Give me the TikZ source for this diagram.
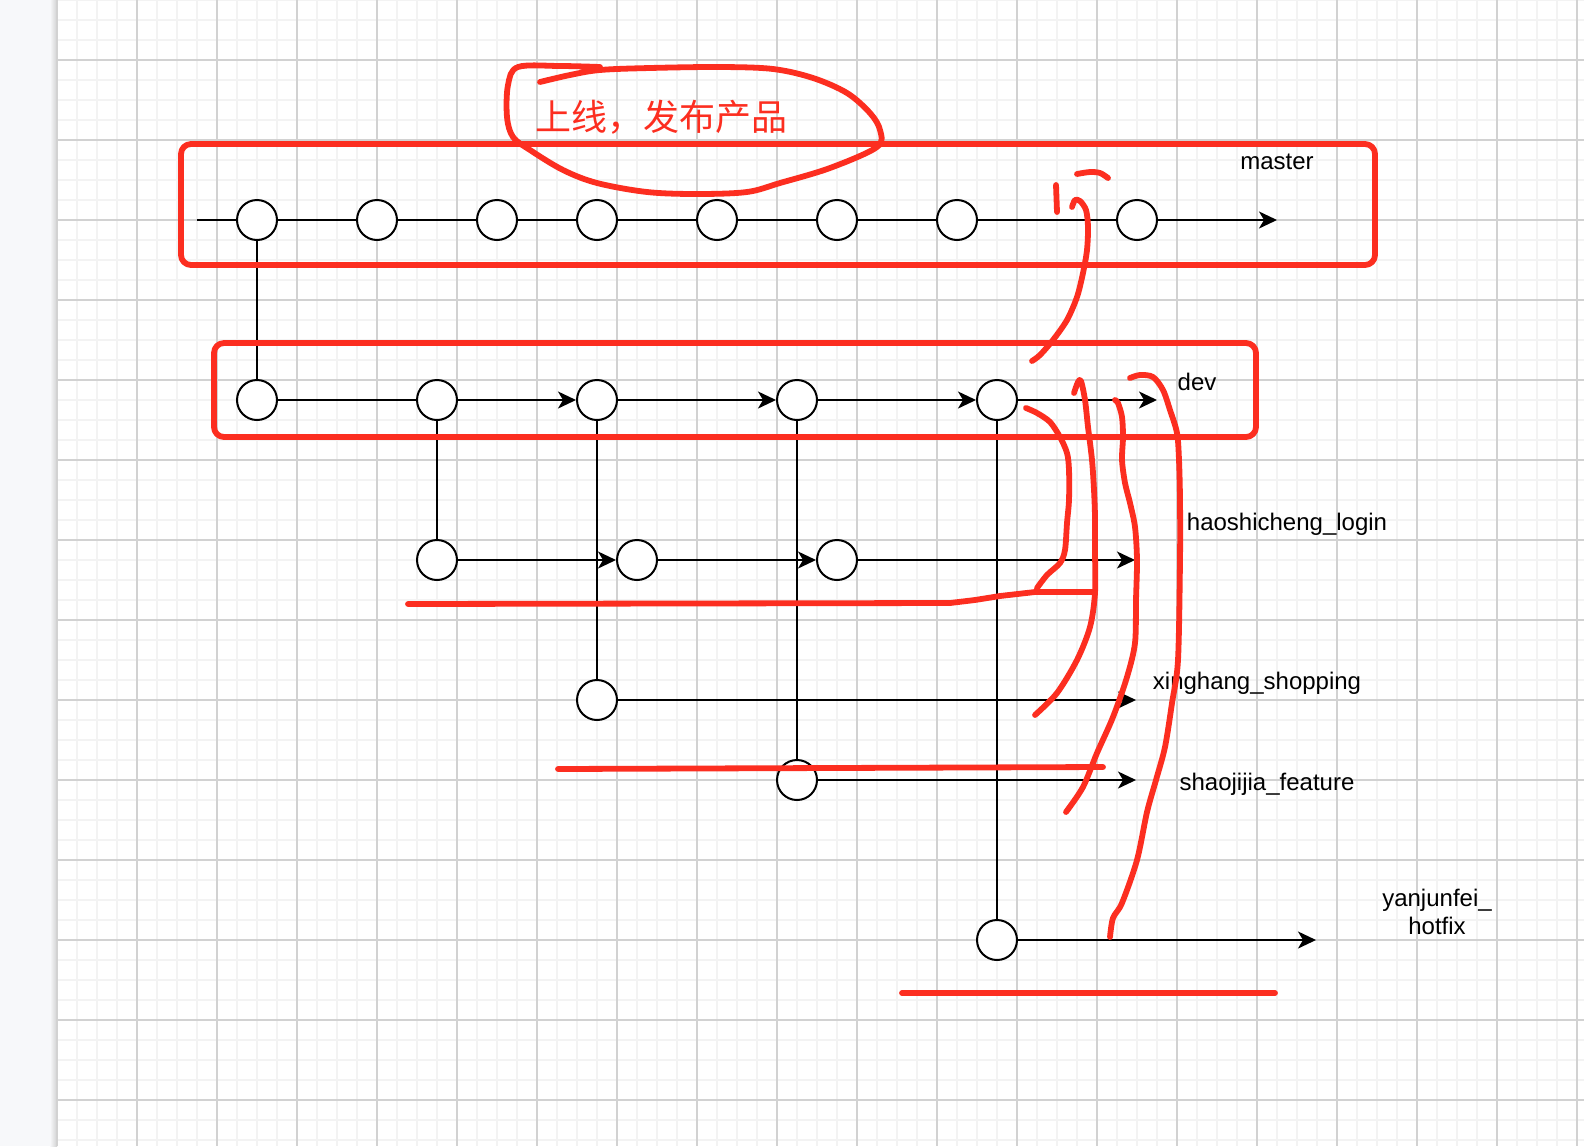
\documentclass[tikz,border=0pt]{standalone}
\usepackage{fontspec}
\setmainfont{Liberation Sans}
\newfontfamily\cjk{Noto Sans CJK SC}
\usetikzlibrary{arrows.meta}
\definecolor{annot}{RGB}{252,46,32}
\definecolor{gridminor}{RGB}{243,243,243}
\definecolor{gridmajor}{RGB}{210,210,210}
\definecolor{panel}{RGB}{247,248,250}
\begin{document}
\begin{tikzpicture}[x=0.5pt,y=-0.5pt,
  commit/.style={circle,draw=black,line width=1pt,fill=white,minimum size=20pt,inner sep=0pt},
  branch/.style={draw=black,line width=1pt},
  arr/.style={-{Stealth[length=9pt,width=8.5pt,inset=2.5pt]}},
  lbl/.style={font=\fontsize{12pt}{14pt}\selectfont,anchor=base,inner sep=0pt},
  redpen/.style={draw=annot,line width=2.9pt,line cap=round,line join=round}]
\useasboundingbox (0,0) rectangle (1584,1146);
% canvas
\fill[white] (0,0) rectangle (1584,1146);
\fill[panel] (0,0) rectangle (57,1146);
\shade[left color=panel,right color=black!18] (50,0) rectangle (57,1146);
\foreach \x in {57,77,...,1584} \draw[gridminor,line width=0.9pt] (\x,0) -- (\x,1146);
\foreach \y in {0,20,...,1146} \draw[gridminor,line width=0.9pt] (57,\y) -- (1584,\y);
\foreach \x in {57,137,...,1584} \draw[gridmajor,line width=0.6pt] (\x,0) -- (\x,1146);
\foreach \y in {60,140,...,1146} \draw[gridmajor,line width=0.6pt] (57,\y) -- (1584,\y);

% commits
\node[commit] (m0) at (257,220) {};
\node[commit] (m1) at (377,220) {};
\node[commit] (m2) at (497,220) {};
\node[commit] (m3) at (597,220) {};
\node[commit] (m4) at (717,220) {};
\node[commit] (m5) at (837,220) {};
\node[commit] (m6) at (957,220) {};
\node[commit] (m7) at (1137,220) {};
\coordinate (mstart) at (197,220);
\coordinate (mend) at (1277,220);

\node[commit] (d0) at (257,400) {};
\node[commit] (d1) at (437,400) {};
\node[commit] (d2) at (597,400) {};
\node[commit] (d3) at (797,400) {};
\node[commit] (d4) at (997,400) {};
\coordinate (dend) at (1157,400);

\node[commit] (h0) at (437,560) {};
\node[commit] (h1) at (637,560) {};
\node[commit] (h2) at (837,560) {};
\coordinate (hend) at (1135,560);

\node[commit] (x0) at (597,700) {};
\coordinate (xend) at (1136,700);
\node[commit] (s0) at (797,780) {};
\coordinate (send) at (1136,780);
\node[commit] (y0) at (997,940) {};
\coordinate (yend) at (1316,940);

% connectors
\draw[branch] (mstart) -- (m0);
\draw[branch] (m0) -- (m1);
\draw[branch] (m1) -- (m2);
\draw[branch] (m2) -- (m3);
\draw[branch] (m3) -- (m4);
\draw[branch] (m4) -- (m5);
\draw[branch] (m5) -- (m6);
\draw[branch] (m6) -- (m7);
\draw[branch,arr] (m7) -- (mend);
\draw[branch] (m0) -- (d0);
\draw[branch] (d0) -- (d1);
\draw[branch,arr] (d1) -- (d2);
\draw[branch,arr] (d2) -- (d3);
\draw[branch,arr] (d3) -- (d4);
\draw[branch,arr] (d4) -- (dend);
\draw[branch] (d1) -- (h0);
\draw[branch] (d2) -- (x0);
\draw[branch] (d3) -- (s0);
\draw[branch] (d4) -- (y0);
\draw[branch,arr] (h0) -- (h1);
\draw[branch,arr] (h1) -- (h2);
\draw[branch,arr] (h2) -- (hend);
\draw[branch,arr] (x0) -- (xend);
\draw[branch,arr] (s0) -- (send);
\draw[branch,arr] (y0) -- (yend);

% labels
\node[lbl] (lmaster) at (1277,169) {master};
\node[lbl] (ldev) at (1197,390) {dev};
\node[lbl] (lhao) at (1287,530) {haoshicheng\_login};
\node[lbl] (lxing) at (1257,689) {xinghang\_shopping};
\node[lbl] (lshao) at (1267,790) {shaojijia\_feature};
\node[font=\fontsize{12pt}{14pt}\selectfont,align=center,inner sep=0pt] (lyan) at (1437,912) {yanjunfei\_\\hotfix};
\node[text=annot,font=\cjk\fontsize{18pt}{20pt}\selectfont,inner sep=0pt] (ttl) at (661,117) {上线，发布产品};

% red annotations
\draw[redpen,rounded corners=5pt] (181,144) rectangle (1375,265);
\draw[redpen,rounded corners=5pt] (214,343) rectangle (1256,437);
\draw[redpen] plot[smooth,tension=0.55] coordinates {(540,82) (570,75) (600,70) (650,68) (720,67) (773,69) (813,78) (847,93) (870,113) (880,130) (877,147) (830,168) (780,183) (747,192) (697,194) (647,192) (597,183) (563,170) (530,150) (513,137) (507,117) (508,85) (518,67) (560,66) (600,67)};
\draw[redpen] (1056,185) -- (1057,212);
\draw[redpen] plot[smooth] coordinates {(1077,174) (1090,172) (1100,173) (1108,178)};
\draw[redpen] plot[smooth] coordinates {(1072,207) (1075,200) (1080,201) (1086,210) (1088,227) (1087,250) (1083,273) (1077,297) (1067,320) (1053,340) (1040,355) (1032,361)};
% stroke A
\draw[redpen] plot[smooth] coordinates {(1026,408) (1037,413) (1050,422) (1060,437) (1067,453) (1069,470) (1069,500) (1067,523) (1065,550) (1060,563) (1047,575) (1037,588)};
\draw[redpen] (408,604) -- (950,603) -- (975,600) -- (1000,596) -- (1035,592) -- (1094,592);
% stroke B
\draw[redpen] plot[smooth] coordinates {(1074,393) (1078,382) (1081,381) (1085,400) (1088,427) (1092,460) (1094,490) (1095,517) (1095,550) (1095,593) (1090,627) (1077,660) (1057,693) (1035,715)};
% stroke C
\draw[redpen] plot[smooth] coordinates {(1115,400) (1118,403) (1122,417) (1123,437) (1122,460) (1125,483) (1130,503) (1135,527) (1137,560) (1136,600) (1135,643) (1127,677) (1113,717) (1097,753) (1083,787) (1066,812)};
% stroke D
\draw[redpen] plot[smooth] coordinates {(1130,378) (1140,375) (1153,377) (1163,390) (1170,410) (1177,433) (1179,460) (1180,500) (1180,560) (1178,660) (1172,703) (1165,747) (1156,780) (1147,812) (1137,860) (1122,903) (1113,918) (1110,937)};
\draw[redpen] (558,769) -- (1103,767);
\draw[redpen] (902,993) -- (1275,993);
\end{tikzpicture}
\end{document}
